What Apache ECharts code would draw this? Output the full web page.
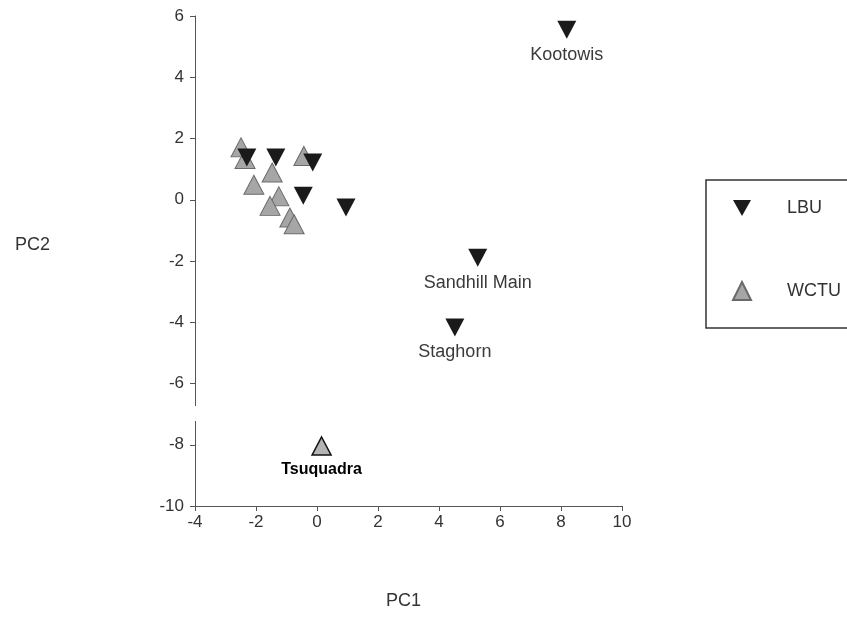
<!DOCTYPE html>
<html>
<head>
<meta charset="utf-8">
<script src="https://cdn.jsdelivr.net/npm/echarts@6/dist/echarts.min.js"></script>
<style>html,body{margin:0;padding:0;background:#fff}#c{width:847px;height:642px}</style>
</head>
<body>
<div id="c"></div>
<script>
// ---- data ----
const xTicks = [-4, -2, 0, 2, 4, 6, 8, 10];
const yTicks = [-10, -8, -6, -4, -2, 0, 2, 4, 6];

const lbuX = [-2.30, -1.35, -0.14, -0.45, 0.95, 8.19, 5.27, 4.52];
const lbuY = [1.38, 1.38, 1.22, 0.13, -0.25, 5.55, -1.89, -4.17];
const lbuNames = ['', '', '', '', '', 'Kootowis', 'Sandhill Main', 'Staghorn'];

const wctuX = [-2.49, -2.36, -0.43, -1.47, -2.07, -1.25, -1.54, -0.89, -0.75, 0.15];
const wctuY = [1.71, 1.33, 1.43, 0.89, 0.49, 0.11, -0.20, -0.58, -0.80, -8.04];
const wctuNames = ['', '', '', '', '', '', '', '', '', 'Tsuquadra'];

const FONT = '"Liberation Sans", Arial, sans-serif';
const downTri = 'path://M0,0 L20,0 L10,18 Z';

const lbuData = lbuX.map((x, i) => ({ value: [x, lbuY[i]], name: lbuNames[i] }));
const wctuData = wctuX.map((x, i) => {
  const d = { value: [x, wctuY[i]], name: wctuNames[i] };
  if (wctuNames[i] === 'Tsuquadra') {
    d.symbolSize = [19, 18];
    d.itemStyle = {
      color: '#b4b4b4', borderColor: '#111', borderWidth: 1.5, opacity: 1,
      decal: { symbol: 'rect', symbolSize: 1, dashArrayX: [1, 1], dashArrayY: [1, 1], color: 'rgba(30,30,30,0.8)' }
    };
    d.label = { color: '#000', fontWeight: 'bold', fontSize: 16, distance: 6 };
  }
  return d;
});

const chart = echarts.init(document.getElementById('c'));
chart.setOption({
  animation: false,
  backgroundColor: '#fff',
  grid: { left: 195, right: 225, top: 16, bottom: 136 },
  xAxis: {
    type: 'value', min: xTicks[0], max: xTicks[xTicks.length - 1], interval: 2,
    axisLine: { show: true, onZero: false, lineStyle: { color: '#555', width: 1 } },
    axisTick: { show: true, length: 5, lineStyle: { color: '#555' } },
    axisLabel: { fontFamily: FONT, fontSize: 17, color: '#333', margin: 8 },
    splitLine: { show: false }
  },
  yAxis: {
    type: 'value', min: yTicks[0], max: yTicks[yTicks.length - 1], interval: 2,
    axisLine: { show: true, onZero: false, lineStyle: { color: '#555', width: 1 } },
    axisTick: { show: true, length: 5, lineStyle: { color: '#555' } },
    axisLabel: { fontFamily: FONT, fontSize: 17, color: '#333', margin: 11 },
    splitLine: { show: false }
  },
  legend: {
    orient: 'vertical', left: 706, top: 180,
    padding: [19, 70, 27, 26],
    itemGap: 64, itemWidth: 18, itemHeight: 18,
    borderColor: '#333', borderWidth: 1.5,
    textStyle: { fontFamily: FONT, fontSize: 18, color: '#333', padding: [0, 0, 0, 31] },
    data: [
      { name: 'LBU', icon: downTri },
      { name: 'WCTU', icon: 'triangle' }
    ]
  },
  series: [
    {
      name: 'LBU', type: 'scatter', symbol: downTri, symbolSize: [19, 18], z: 4,
      itemStyle: { color: '#1a1a1a', opacity: 1 },
      label: {
        show: true, position: 'bottom', distance: 7,
        formatter: p => p.name, fontFamily: FONT, fontSize: 18, color: '#3a3a3a'
      },
      data: lbuData
    },
    {
      name: 'WCTU', type: 'scatter', symbol: 'triangle', symbolSize: [20, 19], z: 2,
      itemStyle: { color: '#a6a6a6', borderColor: '#6a6a6a', borderWidth: 1, opacity: 1 },
      label: {
        show: true, position: 'bottom', distance: 7,
        formatter: p => p.name, fontFamily: FONT, fontSize: 18, color: '#3a3a3a'
      },
      data: wctuData
    }
  ],
  graphic: [
    { type: 'rect', shape: { x: 186, y: 406, width: 16, height: 15 }, style: { fill: '#fff' }, z: 100 },
    { type: 'text', left: 15, top: 236, style: { text: 'PC2', font: '18px ' + FONT, fill: '#333' } },
    { type: 'text', left: 386, top: 592, style: { text: 'PC1', font: '18px ' + FONT, fill: '#333' } }
  ]
});
</script>
</body>
</html>
